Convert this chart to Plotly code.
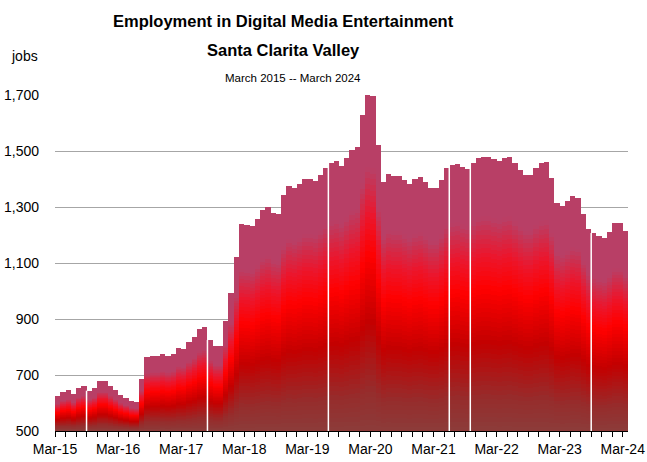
import plotly.graph_objects as go

# monthly jobs, Mar 2015 .. Mar 2024 (109 months)
jobs = [
    625, 639, 646, 632, 654, 661, 644, 654, 679, 679, 661, 646,
    629, 618, 607, 604, 686, 764, 768, 768, 775, 768, 775, 796,
    793, 818, 836, 864, 871, 825, 804, 804, 893, 993, 1121, 1239,
    1236, 1232, 1257, 1289, 1300, 1279, 1275, 1343, 1375, 1368, 1382, 1400,
    1400, 1393, 1414, 1439, 1457, 1464, 1446, 1475, 1504, 1514, 1629, 1705,
    1698, 1521, 1389, 1418, 1411, 1411, 1396, 1382, 1400, 1407, 1389, 1368,
    1368, 1396, 1439, 1450, 1454, 1443, 1436, 1457, 1475, 1479, 1479, 1471,
    1464, 1475, 1479, 1457, 1432, 1414, 1414, 1439, 1457, 1461, 1404, 1314,
    1304, 1321, 1339, 1332, 1275, 1221, 1207, 1196, 1189, 1211, 1243, 1243,
    1214,
]
year_labels = ["Mar-15", "Mar-16", "Mar-17", "Mar-18", "Mar-19",
               "Mar-20", "Mar-21", "Mar-22", "Mar-23", "Mar-24"]
gap_months = [6, 29, 52, 75, 79, 102]  # thin white breaks between bars
base = 500

# vertical gradient inside each bar (fraction of bar height -> colour)
stops = [
    (0.00, (140, 60, 58)),
    (0.12, (150, 44, 44)),
    (0.32, (195, 0, 0)),
    (0.52, (255, 0, 0)),
    (0.64, (236, 22, 44)),
    (0.78, (184, 63, 102)),
    (1.00, (184, 63, 102)),
]


def grad(f):
    for (f0, c0), (f1, c1) in zip(stops, stops[1:]):
        if f <= f1:
            t = (f - f0) / (f1 - f0)
            return "rgb(%d,%d,%d)" % tuple(round(a + (b - a) * t) for a, b in zip(c0, c1))
    return "rgb(%d,%d,%d)" % stops[-1][1]


x = [i + 0.5 for i in range(len(jobs))]
fig = go.Figure()

n = 60
for k in range(n):
    f = 1 - k / n
    fig.add_trace(go.Bar(
        x=x, y=[(v - base) * f for v in jobs], base=base, width=1,
        marker=dict(color=grad(f - 0.5 / n), line=dict(width=0)),
        hoverinfo="skip", showlegend=False,
    ))

for g in gap_months:
    fig.add_shape(type="line", x0=g, x1=g, y0=base, y1=jobs[g],
                  line=dict(color="white", width=1.5), layer="above")

tickvals = list(range(0, len(jobs), 2))
ticktext = [year_labels[t // 12] if t % 12 == 0 else "" for t in tickvals]

narrow = "Liberation Sans Narrow, Arial Narrow, Liberation Sans"


def label(text, xp, yp, size, family=narrow):
    return dict(text=text, x=xp, y=yp, xref="paper", yref="paper", showarrow=False,
                xanchor="center", yanchor="middle", font=dict(family=family, size=size))


fig.update_layout(
    width=647, height=462,
    margin=dict(l=55, r=19, t=95, b=31),
    barmode="overlay", bargap=0,
    plot_bgcolor="white", paper_bgcolor="white",
    font=dict(family="Liberation Sans, Arial, sans-serif", size=14, color="black"),
    xaxis=dict(range=[0, len(jobs)], tickvals=tickvals, ticktext=ticktext,
               showgrid=False, zeroline=False, showline=True, linecolor="black",
               linewidth=1, ticks="outside", ticklen=5, tickcolor="black",
               automargin=False),
    yaxis=dict(range=[500, 1700], tick0=500, dtick=200, tickformat=",", showline=False,
               zeroline=False, gridcolor="#A6A6A6", gridwidth=1, ticks="",
               ticklabelstandoff=15, automargin=False),
    annotations=[
        label("<b>Employment in Digital Media Entertainment</b>", 0.398, 1.22, 16.5),
        label("<b>Santa Clarita Valley</b>", 0.398, 1.134, 16.5),
        label("March 2015 -- March 2024", 0.415, 1.0506, 11.5),
        label("jobs", -0.054, 1.116, 14, "Liberation Sans, Arial"),
    ],
)

# drop the default body margin so the figure fills the window exactly
fig.write_html("out.html", config={"displayModeBar": False},
               post_script="document.body.style.margin='0';document.body.style.overflow='hidden';")
